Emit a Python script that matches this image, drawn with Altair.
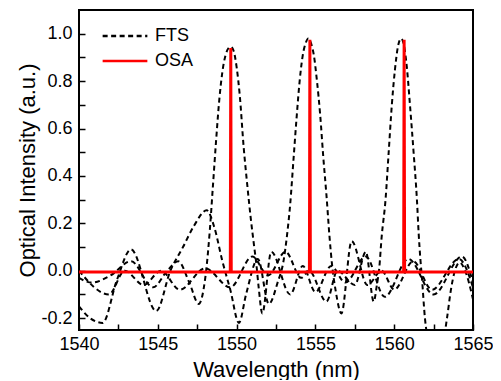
import altair as alt
import pandas as pd

# FTS curve A (peak near 1549.6 nm)
wl_a = [1540.0, 1540.8, 1542.0, 1543.3, 1544.7, 1545.6, 1546.3, 1547.0, 1547.6,
        1547.9, 1548.1, 1548.3, 1548.5, 1548.7, 1548.9, 1549.1, 1549.3, 1549.5, 1549.63,
        1549.8, 1550.0, 1550.2, 1550.45, 1550.68, 1550.9, 1551.1, 1551.25, 1551.4, 1551.63,
        1552.2, 1553.4, 1554.2, 1555.0, 1556.0, 1556.9, 1558.2, 1559.4, 1560.9, 1562.5,
        1564.3, 1565.0]
fts_a = [-0.03, -0.05, -0.02, 0.04, -0.07, 0.0, 0.04, -0.05, -0.14,
         -0.08, 0.02, 0.17, 0.36, 0.55, 0.72, 0.84, 0.91, 0.94, 0.945,
         0.93, 0.86, 0.74, 0.52, 0.36, 0.22, 0.11, 0.03, -0.07, -0.18,
         0.08, -0.1, 0.02, -0.09, 0.02, -0.05, 0.06, -0.11, 0.05, -0.1,
         0.06, -0.05]

# FTS curve B (peak near 1554.5 nm)
wl_b = [1540.0, 1540.7, 1541.5, 1542.4, 1543.3, 1544.9, 1545.8, 1546.6, 1547.3, 1548.1,
        1548.6, 1549.1, 1549.6, 1550.15, 1550.6, 1551.35, 1552.05, 1552.6, 1553.0, 1553.2,
        1553.4, 1553.6, 1553.8, 1554.0, 1554.2, 1554.38, 1554.55, 1554.72, 1554.9, 1555.1,
        1555.3, 1555.5, 1555.7, 1555.9, 1556.05, 1556.3, 1556.65, 1557.3, 1558.3, 1559.2,
        1560.0, 1561.2, 1562.4, 1564.1, 1565.0]
fts_b = [-0.15, -0.2, -0.22, -0.04, 0.09, -0.17, 0.0, 0.1, 0.19, 0.255,
         0.18, 0.04, -0.08, -0.22, -0.1, 0.05, -0.14, -0.05, 0.05, 0.15,
         0.28, 0.46, 0.64, 0.8, 0.91, 0.96, 0.98, 0.96, 0.91, 0.8,
         0.66, 0.48, 0.32, 0.14, 0.03, -0.09, -0.18, 0.125, -0.06, 0.0,
         -0.08, 0.04, -0.08, 0.05, -0.07]

# FTS curve C (peak near 1560.4 nm)
wl_c = [1540.0, 1541.9, 1542.9, 1544.1, 1545.2, 1546.4, 1548.0, 1549.6, 1551.0, 1552.0,
        1553.1, 1554.1, 1554.6, 1555.7, 1556.4, 1557.5, 1558.2, 1558.7, 1558.9, 1559.05,
        1559.2, 1559.45, 1559.65, 1559.85, 1560.05, 1560.25, 1560.44, 1560.62, 1560.8, 1561.0,
        1561.23, 1561.45, 1561.55, 1561.66, 1561.76, 1561.95, 1562.2, 1562.65, 1563.1, 1563.35,
        1563.6, 1563.85, 1564.15, 1564.5, 1565.0]
fts_c = [0.0, -0.1, 0.0, -0.06, 0.0, -0.08, 0.01, -0.07, 0.06, -0.02,
         0.08, -0.03, 0.0, -0.13, 0.0, -0.06, 0.08, -0.13, -0.06, 0.01,
         0.14, 0.3, 0.5, 0.7, 0.85, 0.95, 0.98, 0.95, 0.86, 0.7,
         0.5, 0.29, 0.16, 0.05, -0.03, -0.2, -0.3, -0.35, -0.3, -0.2,
         -0.08, 0.0, 0.035, 0.0, -0.12]

# OSA trace
osa_wl = [1540.0, 1549.60, 1549.63, 1549.66, 1554.62, 1554.65, 1554.68,
          1560.60, 1560.63, 1560.66, 1565.0]
osa_int = [-0.005, -0.005, 0.94, -0.005, -0.005, 0.975, -0.005,
           -0.005, 0.975, -0.005, -0.005]

x_ticks = [1540, 1542.5, 1545, 1547.5, 1550, 1552.5, 1555, 1557.5, 1560, 1562.5, 1565]
y_ticks = [-0.2, -0.1, 0.0, 0.1, 0.2, 0.3, 0.4, 0.5, 0.6, 0.7, 0.8, 0.9, 1.0]

rows = []
for cid, wl, iv in [("A", wl_a, fts_a), ("B", wl_b, fts_b), ("C", wl_c, fts_c)]:
    for w, v in zip(wl, iv):
        rows.append({"wl": w, "val": v, "series": "FTS", "curve": cid})
fts_df = pd.DataFrame(rows)
osa_df = pd.DataFrame({"wl": osa_wl, "val": osa_int, "series": "OSA", "curve": "OSA"})

FONT = "Liberation Sans"

x_enc = alt.X(
    "wl:Q",
    scale=alt.Scale(domain=[1540, 1565], nice=False, zero=False),
    axis=alt.Axis(
        values=x_ticks, format="d",
        labelExpr="datum.value % 5 == 0 ? datum.label : ''",
        labelFlush=False, labelOverlap=False,
        title="Wavelength (nm)", ticks=False, domain=False,
        grid=True, gridColor="black", gridOpacity=1, gridWidth=1.5,
        gridDash=[0, 314, 6, 1000],
        labelFontSize=18, labelFont=FONT, labelColor="black", labelPadding=5,
        titleFontSize=22, titleFont=FONT, titleColor="black", titleFontWeight="normal",
        titlePadding=6,
    ),
)
y_enc = alt.Y(
    "val:Q",
    scale=alt.Scale(domain=[-0.25, 1.1], nice=False, zero=False),
    axis=alt.Axis(
        values=y_ticks,
        labelExpr="abs(round(datum.value*10)) % 2 == 0 ? (datum.value < -0.001 ? '-' + format(abs(datum.value), '.1f') : format(abs(datum.value), '.1f')) : ''",
        labelFlush=False, labelOverlap=False,
        title="Optical Intensity (a.u.)", ticks=False, domain=False,
        grid=True, gridColor="black", gridOpacity=1, gridWidth=1.5,
        gridDash=[6, 1000],
        labelFontSize=18, labelFont=FONT, labelColor="black", labelPadding=7,
        titleFontSize=22, titleFont=FONT, titleColor="black", titleFontWeight="normal",
        titlePadding=1,
    ),
)

legend = alt.Legend(
    title=None, orient="none", legendX=22, legendY=16,
    symbolType="stroke", symbolSize=2000, symbolStrokeWidth=2.5,
    labelFontSize=18, labelFont=FONT, labelColor="black", labelOffset=6,
    clipHeight=20, rowPadding=5, padding=0,
)
color_enc = alt.Color("series:N", scale=alt.Scale(domain=["FTS", "OSA"], range=["black", "#ff0000"]), legend=legend)
dash_enc = alt.StrokeDash("series:N", scale=alt.Scale(domain=["FTS", "OSA"], range=[[5, 3.5], [1, 0]]), legend=legend)

fts = alt.Chart(fts_df).mark_line(interpolate="monotone", strokeWidth=2, clip=True).encode(
    x=x_enc, y=y_enc, color=color_enc, strokeDash=dash_enc, detail="curve:N"
)
osa = alt.Chart(osa_df).mark_line(strokeWidth=3, strokeJoin="bevel", clip=True).encode(
    x=x_enc, y=y_enc, color=color_enc, strokeDash=dash_enc
)

chart = alt.layer(fts, osa).properties(
    width=394, height=320,
    autosize=alt.AutoSizeParams(type="none"),
    padding={"left": 71, "top": 2, "right": 20, "bottom": 50},
).configure_view(stroke="black", strokeWidth=2)

chart.save("out.html", embed_options={"renderer": "svg", "actions": False})
